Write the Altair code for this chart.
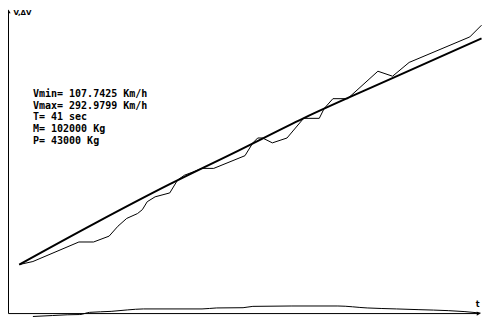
import altair as alt
import pandas as pd

# ---- data ----
T_MAX = 41
V_MIN = 107.7425
V_MAX = 292.9799

# smooth (theoretical) speed curve
fit_t = [0, 6.7, 13.35, 19.4, 25.2, 33.3, 41]
fit_v = [107.74, 141.5, 173.6, 200.9, 227.5, 261.2, 292.98]

# measured speed (wiggly line)
meas_t = [0, 1.21, 5.29, 6.59, 7.97, 8.75, 9.53, 10.49, 10.92, 11.35, 12.05, 13.35,
          14.04, 14.65, 15.34, 16.21, 17.25, 20.02, 20.72, 21.15, 21.58, 22.45, 23.75,
          25.22, 26.61, 27.04, 27.82, 29.12, 31.81, 33.11, 34.58, 39.96, 41.0]
meas_v = [107.7, 110.2, 126.2, 126.2, 131.0, 139.1, 145.5, 149.5, 152.7, 159.2, 163.2, 166.4,
          176.9, 180.9, 183.3, 186.5, 186.5, 196.9, 207.4, 211.4, 211.4, 207.4, 211.4,
          227.5, 227.5, 235.5, 243.6, 243.6, 266.1, 262.0, 273.3, 294.2, 303.8]

# delta V (small curve near the time axis)
dv_t = [1.21, 2.95, 4.25, 5.37, 6.24, 8.15, 9.62, 11.01, 16.21, 17.51, 19.85, 20.72,
        24.18, 28.26, 30.86, 33.46, 35.45, 38.05, 39.53, 40.91]
dv_v = [-2.4, -1.6, -1.0, -0.8, 1.0, 1.8, 3.0, 3.8, 3.8, 4.6, 4.8, 5.9,
        6.2, 6.2, 4.6, 3.8, 3.2, 2.4, 1.6, 0.4]

info_lines = ["Vmin= 107.7425 Km/h", "Vmax= 292.9799 Km/h", "T= 41 sec",
              "M= 102000 Kg", "P= 43000 Kg"]
y_title = "V,\u0394V"
x_title = "t"

# ---- layout (reference pixel frame scaled into the view) ----
W, H = 474, 309
SX = W / 485.0
SY = H / 315.0


def vx(rx):
    return (rx - 5.0) * SX + 0.5


def vy(ry):
    return (ry - 2.5) * SY


x_scale = alt.Scale(domain=[0, T_MAX], range=[vx(16), vx(489)], nice=False, zero=False)
v_scale = alt.Scale(domain=[V_MIN, V_MAX], range=[vy(264), vy(33.5)], nice=False, zero=False)
dv_scale = alt.Scale(domain=[0, 6], range=[vy(314), vy(314 - 6 / 0.80366)], nice=False, zero=False)

fit_df = pd.DataFrame({"t": fit_t, "v": fit_v})
meas_df = pd.DataFrame({"t": meas_t, "v": meas_v})
dv_df = pd.DataFrame({"t": dv_t, "dv": dv_v})

fit_line = alt.Chart(fit_df).mark_line(color="black", strokeWidth=2, interpolate="monotone").encode(
    x=alt.X("t:Q", scale=x_scale, axis=None),
    y=alt.Y("v:Q", scale=v_scale, axis=None),
)
meas_line = alt.Chart(meas_df).mark_line(color="black", strokeWidth=1).encode(
    x=alt.X("t:Q", scale=x_scale, axis=None),
    y=alt.Y("v:Q", scale=v_scale, axis=None),
)
v_layer = alt.layer(fit_line, meas_line)

dv_line = alt.Chart(dv_df).mark_line(color="black", strokeWidth=1, interpolate="monotone").encode(
    x=alt.X("t:Q", scale=x_scale, axis=None),
    y=alt.Y("dv:Q", scale=dv_scale, axis=None),
)

base = alt.Chart(pd.DataFrame({"a": [0]}))

y_axis = base.mark_rule(color="black", strokeWidth=1).encode(
    x=alt.value(vx(5)), y=alt.value(vy(5)), y2=alt.value(vy(314)))
x_axis = base.mark_rule(color="black", strokeWidth=1).encode(
    x=alt.value(vx(5)), x2=alt.value(vx(486)), y=alt.value(vy(314)))
y_arrow = base.mark_point(shape="triangle-up", filled=True, color="black", size=18, opacity=1).encode(
    x=alt.value(vx(5)), y=alt.value(vy(6)))
x_arrow = base.mark_point(shape="triangle-right", filled=True, color="black", size=18, opacity=1).encode(
    x=alt.value(vx(486)), y=alt.value(vy(314)))

y_lab = base.mark_text(align="left", baseline="alphabetic", font="DejaVu Sans", fontWeight="bold",
                       fontSize=7, color="black").encode(
    x=alt.value(vx(10)), y=alt.value(vy(10)), text=alt.value(y_title))
x_lab = base.mark_text(align="center", baseline="alphabetic", font="DejaVu Sans", fontWeight="bold",
                       fontSize=8, color="black").encode(
    x=alt.value(vx(485)), y=alt.value(vy(307)), text=alt.value(x_title))

info = base.mark_text(align="left", baseline="alphabetic", font="DejaVu Sans Mono", fontWeight="bold",
                      fontSize=10, lineHeight=12 * SY, color="black").encode(
    x=alt.value(vx(30)), y=alt.value(vy(93)), text=alt.value(info_lines))

chart = alt.layer(
    v_layer, dv_line, y_axis, x_axis, y_arrow, x_arrow, y_lab, x_lab, info
).resolve_scale(y="independent").properties(
    width=W, height=H, autosize=alt.AutoSizeParams(type="none"), padding=0,
    background="white",
).configure_view(stroke=None)

chart.save("out.html", embed_options={"renderer": "svg", "actions": False})
